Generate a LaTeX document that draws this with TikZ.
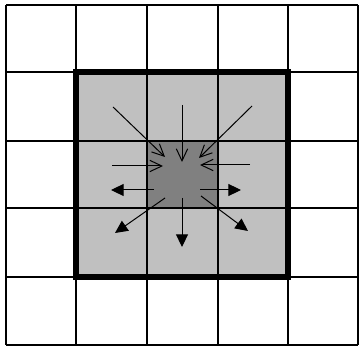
\documentclass[tikz,border=0pt]{standalone}
\usetikzlibrary{arrows.meta}
\definecolor{lightcell}{RGB}{192,192,192}
\definecolor{darkcell}{RGB}{128,128,128}
\tikzset{
  gridline/.style={line width=1.6pt, black},
  frame/.style={line width=3.8pt, black},
  inarrow/.style={line width=0.75pt, -{Straight Barb[length=9pt,width=8.5pt,line width=0.75pt]}},
  outarrow/.style={line width=0.75pt, -{Triangle[length=9.5pt,width=9pt]}}
}
\begin{document}
\begin{tikzpicture}[x=0.75pt,y=-0.75pt]
\useasboundingbox (0,0) rectangle (360,348);
% fills
\fill[lightcell] (76,72) rectangle (288,277);
\fill[darkcell] (147,141) rectangle (218,208);
% grid
\foreach \x in {6,76,147,218,288,358} \draw[gridline] (\x,5) -- (\x,345);
\foreach \y in {5,72,141,208,277,345} \draw[gridline] (6,\y) -- (358,\y);
% thick frame
\draw[frame] (76,72) rectangle (288,277);
% arrow end points
\coordinate (nwA) at (113,107); \coordinate (nwB) at (165,157);
\coordinate (nA) at (182,105);  \coordinate (nB) at (182,162);
\coordinate (neA) at (252,106); \coordinate (neB) at (199,158);
\coordinate (wA) at (112,166);  \coordinate (wB) at (163,166);
\coordinate (eA) at (250,165);  \coordinate (eB) at (200,165);
\coordinate (owA) at (154,190); \coordinate (owB) at (111,190);
\coordinate (oeA) at (200,190); \coordinate (oeB) at (241,190);
\coordinate (oswA) at (165,198); \coordinate (oswB) at (115,233);
\coordinate (osA) at (182,198); \coordinate (osB) at (182,247);
\coordinate (oseA) at (201,196); \coordinate (oseB) at (248,231);
% inward arrows
\draw[inarrow] (nwA) -- (nwB);
\draw[inarrow] (nA) -- (nB);
\draw[inarrow] (neA) -- (neB);
\draw[inarrow] (wA) -- (wB);
\draw[inarrow] (eA) -- (eB);
% outward arrows
\draw[outarrow] (owA) -- (owB);
\draw[outarrow] (oeA) -- (oeB);
\draw[outarrow] (oswA) -- (oswB);
\draw[outarrow] (osA) -- (osB);
\draw[outarrow] (oseA) -- (oseB);
\end{tikzpicture}
\end{document}
